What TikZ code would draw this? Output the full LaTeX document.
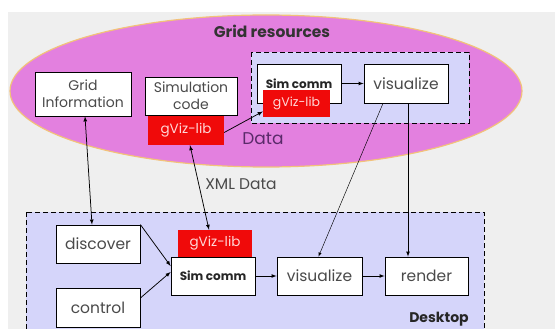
\documentclass[tikz,border=0pt]{standalone}
\usepackage{fontspec}
\setmainfont{Poppins}
\usepackage{tikz}

\definecolor{gridpink}{HTML}{E380DF}
\definecolor{gridedge}{HTML}{F2C27A}
\definecolor{deskblue}{HTML}{D5D5FA}
\definecolor{libred}{HTML}{F00A0A}
\definecolor{libtext}{HTML}{FFD6D6}
\definecolor{boxtext}{HTML}{4A4A4A}
\definecolor{datatext}{HTML}{5A2A6A}
\definecolor{backgrey}{HTML}{EFEFEF}

\begin{document}
\begin{tikzpicture}[
	x = 1pt, y = -1pt,
	every node/.style = {inner sep = 0pt, text = boxtext},
	box/.style = {draw, fill = white, line width = 0.8pt, minimum width = #1, minimum height = 38pt, font = \fontsize{15.5}{17}\selectfont},
	box/.default = 84pt,
	commbox/.style = {box, font = \bfseries\fontsize{12}{14}\selectfont, text = black!85},
	libbox/.style = {fill = libred, text = libtext, minimum width = #1, minimum height = 27pt, font = \fontsize{13.5}{15}\selectfont},
	libbox/.default = 74pt,
	region/.style = {draw, dashed, fill = deskblue, line width = 0.9pt, dash pattern = on 5pt off 3pt},
	link/.style = {-latex, line width = 0.75pt},
	twoway/.style = {latex-latex, line width = 0.75pt}
	]
	\useasboundingbox (0,0) rectangle (555,329);
	\fill[backgrey] (8,12) rectangle (555,329);

	% grid side
	\draw[gridedge, fill = gridpink, line width = 1.2pt] (266,91) ellipse [x radius = 256, y radius = 76];
	\node[font = \bfseries\fontsize{15.5}{17}\selectfont, text = black!80] (gridlabel) at (272,31) {Grid resources};
	\draw[region] (251,52) rectangle (469,123);

	\node[box = 96pt, minimum height = 44pt, align = center, font = \fontsize{14}{17}\selectfont] (gridinfo) at (83,94) {Grid\\Information};
	\node[box = 92pt, align = center, font = \fontsize{14}{17}\selectfont] (simcode) at (191,96) {Simulation\\code};
	\node[libbox = 76pt, minimum height = 29pt] (simlib) at (186,130.5) {gViz-lib};
	\node[datatext, font = \fontsize{17}{18}\selectfont] (datalabel) at (263,139) {Data};

	\node[commbox, minimum height = 39pt] (gridcomm) at (299,83.5) {Sim comm};
	\node[libbox = 67pt, font = \fontsize{12.5}{14}\selectfont] (gridlib) at (296.5,103.5) {gViz-lib};
	\node[box, minimum height = 39pt] (gridvis) at (406,83.5) {visualize};

	% desktop side
	\draw[region] (26,212) rectangle (484,345);
	\node[font = \bfseries\fontsize{14}{15}\selectfont, text = black!85] (desklabel) at (439,319) {Desktop};
	\node[font = \fontsize{15.5}{17}\selectfont] (xmllabel) at (241,184) {XML Data};

	\node[box] (discover) at (98,244) {discover};
	\node[box, minimum height = 39pt] (control) at (98,307.5) {control};
	\node[libbox] (desklib) at (215,243.5) {gViz-lib};
	\node[commbox] (deskcomm) at (213,276) {Sim comm};
	\node[box = 85pt] (deskvis) at (319.5,276) {visualize};
	\node[box = 83pt] (render) at (426.5,276) {render};

	% connectors
	\draw[twoway] ([xshift = 2pt]gridinfo.south) -- ([xshift = -6pt]discover.north);
	\draw[twoway] ([xshift = 4pt]simlib.south) -- ([xshift = -6pt]desklib.north);
	\draw[link] ([yshift = -2pt]simlib.east) -- ([yshift = -8pt]gridlib.west);
	\draw[link] (gridcomm.east) -- (gridvis.west);
	\draw[link, line width = 0.45pt] ([xshift = -23pt]gridvis.south) -- ([xshift = -1pt]deskvis.north);
	\draw[link] ([xshift = 2pt]gridvis.south) -- ([xshift = -18.5pt]render.north);
	\draw[link] (discover.north east) -- ([yshift = 10pt]deskcomm.west);
	\draw[link] ([yshift = 9.5pt]control.east) -- ([yshift = 4pt]deskcomm.west);
	\draw[link] (deskcomm.east) -- (deskvis.west);
	\draw[link] (deskvis.east) -- (render.west);
\end{tikzpicture}
\end{document}
